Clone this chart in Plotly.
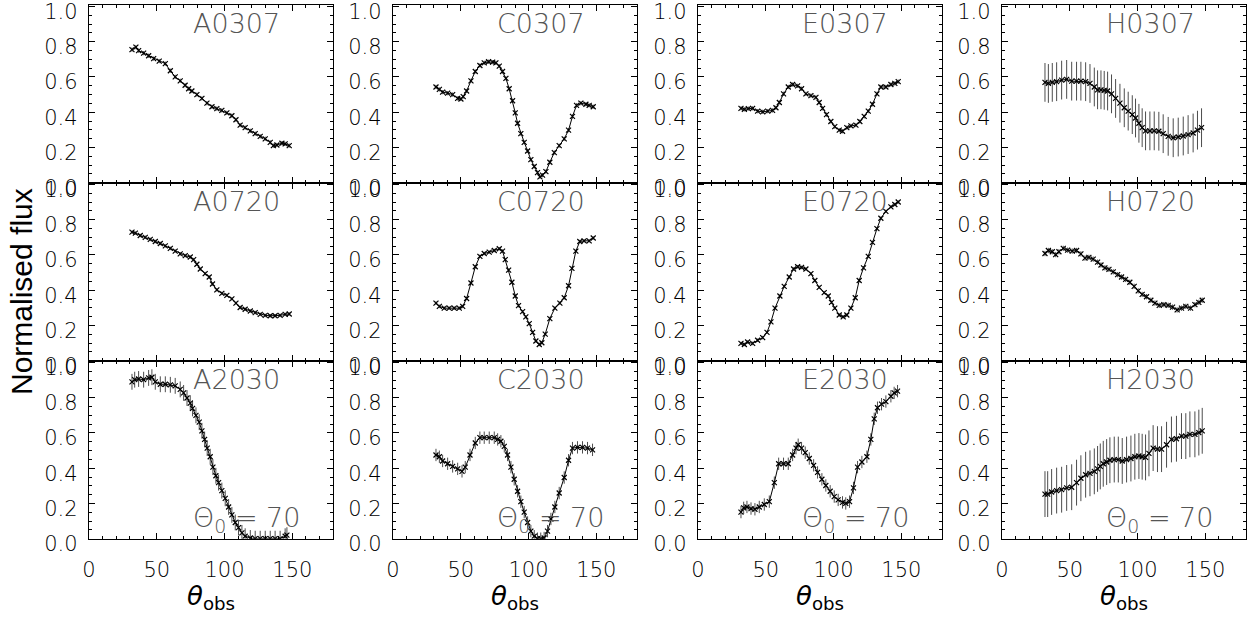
import plotly.graph_objects as go

# ---------------- data ----------------
panel_names = ["A0307", "C0307", "E0307", "H0307",
               "A0720", "C0720", "E0720", "H0720",
               "A2030", "C2030", "E2030", "H2030"]

theta_A0307 = [31.7,34.6,36.6,40.3,44.0,47.7,51.8,56.3,60.0,63.6,67.3,70.9,73.5,75.9,79.6,83.3,87.0,90.7,94.3,98.0,101.7,105.4,108.4,111.5,115.2,119.0,122.6,126.3,130.0,133.7,136.0,138.6,142.3,144.7,147.7]
flux_A0307 = [0.755,0.769,0.749,0.735,0.720,0.704,0.690,0.675,0.635,0.600,0.578,0.553,0.533,0.520,0.500,0.478,0.451,0.431,0.420,0.410,0.396,0.380,0.357,0.327,0.312,0.294,0.278,0.263,0.249,0.229,0.210,0.214,0.224,0.220,0.210]

theta_A0720 = [31.7,34.2,37.8,41.5,45.2,48.9,52.6,56.3,60.0,63.6,67.3,71.0,74.7,77.2,79.6,82.1,85.7,88.7,91.1,94.3,98.0,101.7,105.4,108.4,111.5,115.2,119.0,122.6,126.3,130.0,133.7,137.3,141.0,144.7,147.7]
flux_A0720 = [0.729,0.724,0.710,0.700,0.688,0.676,0.665,0.651,0.637,0.622,0.606,0.596,0.588,0.573,0.547,0.520,0.494,0.475,0.435,0.402,0.382,0.371,0.351,0.327,0.302,0.292,0.282,0.273,0.263,0.257,0.255,0.255,0.257,0.263,0.265]

theta_A2030 = [31.7,33.7,36.6,40.3,44.0,46.4,48.9,52.6,56.3,60.0,63.6,67.3,69.8,72.3,74.7,76.4,78.9,81.3,83.3,85.3,87.2,89.4,91.4,93.6,95.6,98.0,100.5,103.0,105.4,107.9,110.3,112.8,115.2,119.0,122.6,126.3,130.0,133.7,137.3,141.0,144.7,146.0]
flux_A2030 = [0.890,0.902,0.906,0.902,0.912,0.916,0.890,0.876,0.876,0.873,0.867,0.847,0.827,0.798,0.769,0.739,0.700,0.661,0.612,0.563,0.514,0.465,0.406,0.357,0.318,0.273,0.229,0.180,0.135,0.092,0.063,0.033,0.014,0.004,0.0,0.0,0.0,0.0,0.0,0.0,0.014,0.020]

theta_C0307 = [31.7,34.2,36.6,40.3,44.0,47.7,50.1,51.8,54.3,57.5,60.7,64.1,67.3,70.5,73.5,75.9,78.4,80.8,83.3,85.7,88.2,90.2,91.9,94.3,96.8,99.3,101.7,104.2,106.6,108.4,110.3,112.8,115.7,119.0,122.6,126.3,129.5,132.4,135.4,138.6,142.3,144.7,147.7]
flux_C0307 = [0.543,0.529,0.514,0.508,0.500,0.478,0.475,0.488,0.520,0.578,0.631,0.665,0.680,0.686,0.684,0.680,0.661,0.631,0.592,0.533,0.465,0.396,0.337,0.278,0.229,0.180,0.131,0.092,0.057,0.033,0.043,0.063,0.116,0.171,0.210,0.249,0.298,0.376,0.439,0.451,0.445,0.439,0.431]

theta_C0720 = [31.7,34.2,37.8,41.5,45.2,48.9,51.4,54.3,57.5,60.7,64.1,67.3,71.0,74.7,78.4,80.8,82.8,85.3,87.7,90.2,92.6,95.6,98.0,100.5,103.0,105.4,107.9,109.8,112.3,115.7,119.4,123.1,126.3,129.5,132.0,134.9,137.8,141.0,144.7,147.7]
flux_C0720 = [0.327,0.308,0.298,0.298,0.298,0.298,0.308,0.353,0.441,0.533,0.592,0.608,0.616,0.625,0.635,0.622,0.573,0.514,0.445,0.367,0.312,0.278,0.249,0.210,0.161,0.112,0.092,0.102,0.151,0.239,0.298,0.327,0.357,0.425,0.524,0.622,0.676,0.680,0.680,0.696]

theta_C2030 = [31.7,34.2,36.6,40.3,44.0,47.7,50.9,53.3,56.8,60.7,64.1,67.3,71.0,74.7,77.2,79.6,82.1,84.5,87.0,89.4,91.9,94.3,96.8,99.3,101.7,104.2,106.6,109.0,111.5,114.0,116.5,119.4,122.6,126.3,129.5,132.4,136.1,139.8,143.5,147.2]
flux_C2030 = [0.475,0.465,0.441,0.425,0.410,0.396,0.382,0.406,0.475,0.543,0.573,0.573,0.573,0.573,0.563,0.553,0.524,0.475,0.406,0.337,0.269,0.210,0.151,0.092,0.043,0.014,0.0,0.0,0.004,0.043,0.112,0.180,0.259,0.347,0.445,0.514,0.518,0.518,0.514,0.504]

theta_E0307 = [31.7,34.2,37.1,40.3,44.0,47.7,51.4,55.0,57.5,60.0,63.1,66.6,69.8,73.5,76.4,79.6,83.3,87.0,89.4,91.9,94.8,98.0,100.9,104.2,106.6,109.8,112.8,116.5,119.4,122.6,125.6,128.7,132.0,134.9,138.6,142.3,145.2,147.7]
flux_E0307 = [0.422,0.416,0.420,0.422,0.406,0.402,0.406,0.410,0.425,0.455,0.504,0.543,0.557,0.549,0.533,0.504,0.494,0.484,0.455,0.422,0.386,0.347,0.318,0.298,0.292,0.312,0.322,0.327,0.347,0.376,0.406,0.445,0.504,0.543,0.543,0.557,0.563,0.573]

theta_E0720 = [31.7,34.2,36.6,40.3,44.0,47.7,50.9,53.8,56.8,60.4,63.6,67.3,70.5,73.5,76.4,79.6,83.3,86.2,89.4,93.1,96.1,98.5,100.9,104.2,107.1,109.8,112.8,116.0,118.9,122.1,125.6,128.7,132.0,134.9,138.6,142.3,145.2,147.7]
flux_E0720 = [0.098,0.092,0.106,0.098,0.116,0.131,0.161,0.220,0.298,0.367,0.422,0.475,0.520,0.533,0.529,0.520,0.494,0.455,0.416,0.386,0.367,0.331,0.298,0.259,0.249,0.259,0.298,0.357,0.455,0.527,0.592,0.671,0.749,0.808,0.847,0.873,0.886,0.900]

theta_E2030 = [31.7,33.7,36.1,39.1,42.0,45.2,48.9,52.6,56.3,59.5,63.1,66.6,69.8,72.3,73.9,76.4,79.1,82.1,85.3,88.2,91.4,94.3,97.5,100.5,103.4,106.6,109.0,111.8,114.7,117.7,120.9,124.6,127.5,130.0,132.4,135.4,138.6,142.3,144.7,147.2]
flux_E2030 = [0.151,0.175,0.180,0.171,0.167,0.180,0.194,0.210,0.318,0.425,0.425,0.425,0.475,0.514,0.533,0.514,0.488,0.455,0.416,0.376,0.337,0.302,0.269,0.239,0.220,0.206,0.200,0.210,0.288,0.406,0.435,0.465,0.563,0.680,0.743,0.763,0.778,0.808,0.827,0.837]

theta_H0307 = [31.7,34.2,37.1,40.3,44.0,47.7,51.4,55.0,58.2,61.7,64.9,68.1,70.5,73.0,75.4,77.9,80.8,83.8,87.0,90.2,93.1,96.1,98.5,101.0,103.4,105.9,109.1,112.3,115.7,118.9,122.6,126.3,130.0,133.7,137.3,141.0,144.2,147.2]
flux_H0307 = [0.569,0.563,0.569,0.573,0.582,0.586,0.576,0.576,0.576,0.573,0.563,0.543,0.527,0.527,0.524,0.520,0.504,0.478,0.451,0.425,0.406,0.386,0.367,0.337,0.312,0.294,0.294,0.294,0.292,0.278,0.263,0.255,0.259,0.265,0.273,0.282,0.298,0.312]

theta_H0720 = [31.7,34.2,37.1,39.6,42.0,45.2,48.4,51.8,55.0,58.2,61.2,64.1,67.3,70.5,73.0,75.9,78.9,82.1,85.3,88.2,91.2,94.3,97.5,100.5,103.4,106.6,109.8,112.8,116.0,119.4,122.6,125.8,129.2,132.4,135.6,139.1,142.3,145.2,147.7]
flux_H0720 = [0.608,0.625,0.618,0.602,0.618,0.637,0.627,0.622,0.625,0.606,0.582,0.586,0.576,0.559,0.543,0.527,0.518,0.504,0.488,0.475,0.461,0.445,0.422,0.396,0.376,0.363,0.343,0.327,0.314,0.318,0.314,0.304,0.288,0.298,0.308,0.298,0.318,0.331,0.343]

theta_H2030 = [31.7,33.7,36.6,40.3,44.0,47.7,51.4,55.0,58.2,61.7,64.9,68.1,70.5,72.5,74.7,77.2,79.6,82.8,85.8,88.7,91.9,95.1,98.0,101.0,103.4,105.9,108.4,111.5,114.7,117.7,121.4,125.0,128.7,132.4,135.6,138.6,142.3,145.2,147.7]
flux_H2030 = [0.253,0.253,0.265,0.273,0.278,0.288,0.292,0.318,0.343,0.363,0.371,0.382,0.396,0.410,0.425,0.435,0.445,0.449,0.449,0.441,0.449,0.455,0.465,0.469,0.465,0.461,0.484,0.514,0.508,0.508,0.533,0.563,0.567,0.582,0.582,0.592,0.592,0.602,0.612]

# half-length of the error bars in each panel (same order as panel_names)
flux_err = [0.012, 0.012, 0.012, 0.11,
            0.010, 0.010, 0.010, 0.015,
            0.045, 0.035, 0.035, 0.13]

theta_list = [theta_A0307, theta_C0307, theta_E0307, theta_H0307,
              theta_A0720, theta_C0720, theta_E0720, theta_H0720,
              theta_A2030, theta_C2030, theta_E2030, theta_H2030]
flux_list = [flux_A0307, flux_C0307, flux_E0307, flux_H0307,
             flux_A0720, flux_C0720, flux_E0720, flux_H0720,
             flux_A2030, flux_C2030, flux_E2030, flux_H2030]

x_ticks = [0, 50, 100, 150]
y_ticks = [0.0, 0.2, 0.4, 0.6, 0.8, 1.0]
theta0_label = "Θ<sub>0</sub> = 70"

# ---------------- layout geometry ----------------
W, H = 1250, 619
col_left_px = [89, 393, 698, 1002]
col_w_px = 244
row_top_px = [5, 183, 361]
row_h_px = 177.7

TICK_FONT = dict(family="DejaVu Sans", size=21, color="black", weight=200)
LABEL_FONT = dict(family="DejaVu Sans", size=27, color="#555555", weight=200)

fig = go.Figure()
layout = dict(
    width=W, height=H, autosize=False,
    margin=dict(l=0, r=0, t=0, b=0, pad=0),
    paper_bgcolor="white", plot_bgcolor="white",
    showlegend=False, template="none",
)
annotations = []

for k in range(12):
    r, c = divmod(k, 4)
    idx = "" if k == 0 else str(k + 1)
    x0 = col_left_px[c] / W
    x1 = (col_left_px[c] + col_w_px) / W
    y1 = 1 - row_top_px[r] / H
    y0 = 1 - (row_top_px[r] + row_h_px) / H

    fig.add_trace(go.Scatter(
        x=theta_list[k], y=flux_list[k],
        mode="lines+markers",
        line=dict(color="black", width=1),
        marker=dict(symbol="x-thin", size=5, color="black",
                    line=dict(width=1.2, color="black")),
        error_y=dict(type="constant", value=flux_err[k], color="#4d4d4d",
                     thickness=1, width=0),
        xaxis="x" + idx, yaxis="y" + idx,
        hoverinfo="skip",
    ))

    layout["xaxis" + idx] = dict(
        domain=[x0, x1], anchor="y" + idx, range=[0, 180],
        tickvals=x_ticks, ticktext=[str(v) for v in x_ticks],
        ticks="inside", ticklen=6, tickwidth=1, tickcolor="black",
        minor=dict(dtick=10, tick0=0, ticks="inside", ticklen=3,
                   tickwidth=1, tickcolor="black"),
        showline=True, linecolor="black", linewidth=1.3, mirror="allticks",
        showgrid=False, zeroline=False,
        showticklabels=(r == 2), tickfont=TICK_FONT,
        ticklabelstandoff=12, ticklabeloverflow="allow",
        automargin=False, fixedrange=True,
    )
    layout["yaxis" + idx] = dict(
        domain=[y0, y1], anchor="x" + idx, range=[0, 1.008],
        tickvals=y_ticks, ticktext=["%.1f" % v for v in y_ticks],
        ticks="inside", ticklen=6, tickwidth=1, tickcolor="black",
        minor=dict(dtick=0.05, tick0=0, ticks="inside", ticklen=3,
                   tickwidth=1, tickcolor="black"),
        showline=True, linecolor="black", linewidth=1.3, mirror="allticks",
        showgrid=False, zeroline=False,
        showticklabels=True, tickfont=TICK_FONT,
        ticklabelstandoff=6, ticklabelshift=5, ticklabeloverflow="allow",
        automargin=False, fixedrange=True,
    )

    annotations.append(dict(
        text=panel_names[k], x=75, y=0.905,
        xref="x" + idx, yref="y" + idx,
        xanchor="left", yanchor="middle", showarrow=False,
        font=LABEL_FONT,
    ))
    if r == 2:
        annotations.append(dict(
            text=theta0_label, x=75, y=0.11,
            xref="x" + idx, yref="y" + idx,
            xanchor="left", yanchor="middle", showarrow=False,
            font=LABEL_FONT,
        ))
        annotations.append(dict(
            text="<i>θ</i><sub>obs</sub>",
            x=(col_left_px[c] + col_w_px / 2) / W, y=0.035,
            xref="paper", yref="paper",
            xanchor="center", yanchor="middle", showarrow=False,
            font=dict(family="DejaVu Sans", size=26, color="black"),
        ))

annotations.append(dict(
    text="Normalised flux", x=21 / W, y=1 - 292 / H,
    xref="paper", yref="paper", textangle=-90,
    xanchor="center", yanchor="middle", showarrow=False,
    font=dict(family="Liberation Sans", size=30, color="black"),
))
layout["annotations"] = annotations

fig.update_layout(**layout)
fig.write_html("out.html")
